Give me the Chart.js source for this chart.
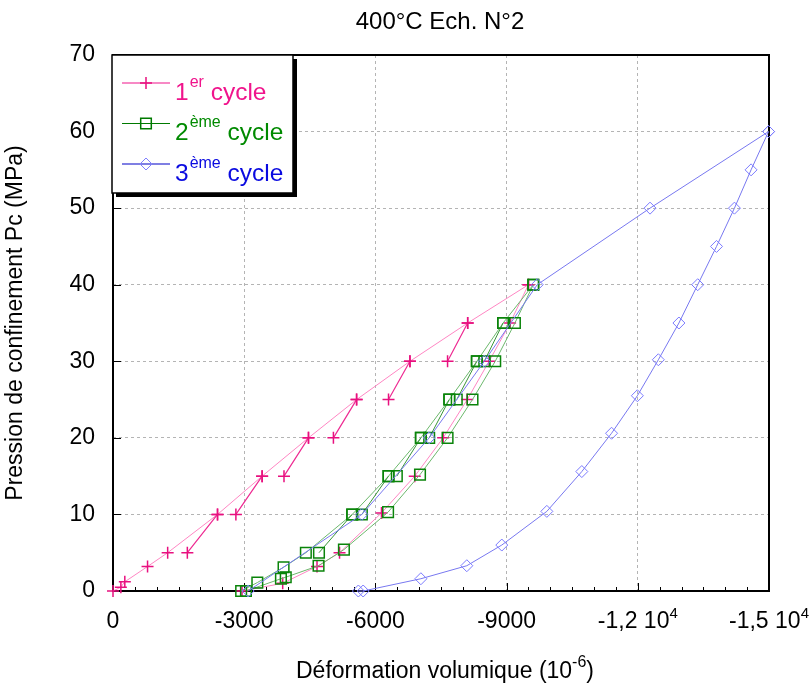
<!DOCTYPE html>
<html>
<head>
<meta charset="utf-8">
<script src="https://cdn.jsdelivr.net/npm/chart.js@4.4.0/dist/chart.umd.min.js"></script>
<style>
  html, body { margin: 0; padding: 0; background: #fff; }
</style>
</head>
<body>
<canvas id="chart" width="810" height="685"></canvas>
<script>
// 1er cycle : chargement (début de chaque palier)
const c1LoadX = [0, -180, -270, -790, -1250, -2390, -3410, -4470, -5570, -6790, -8110, -9500];
const c1LoadY = [0, 0.5, 1.2, 3.2, 5, 10, 15, 20, 25, 30, 35, 40];
// 1er cycle : fin de palier (fluage), reliée au palier suivant
const c1CreepX = [-1700, -2810, -3910, -5040, -6300, -7650];
const c1CreepY = [5, 10, 15, 20, 25, 30];
// 1er cycle : déchargement
const c1UnloadX = [-9500, -9080, -8600, -8100, -7550, -6900, -6140, -5180, -4665, -3880, -2950];
const c1UnloadY = [40, 35, 30, 25, 20, 15, 10.2, 5, 3.2, 1, 0];

// 2ème cycle
const c2LoadX = [-2930, -3300, -3900, -4410, -5470, -6300, -7040, -7690, -8320, -8920, -9610];
const c2LoadY = [0, 1.1, 3.1, 5, 10, 15, 20, 25, 30, 35, 40];
const c2CreepX = [-4710, -5690, -6490, -7230, -7860, -8490];
const c2CreepY = [5, 10, 15, 20, 25, 30];
const c2UnloadX = [-9610, -9190, -8740, -8220, -7650, -7020, -6290, -5280, -4700, -3950, -3840, -3040];
const c2UnloadY = [40, 35, 30, 25, 20, 15.2, 10.3, 5.4, 3.3, 1.8, 1.6, 0];

// 3ème cycle
const c3LoadX = [-3090, -5690, -7230, -8490, -9700, -12280, -14990];
const c3LoadY = [0, 10, 20, 30, 40, 50, 60];
const c3UnloadX = [-14990, -14590, -14210, -13800, -13370, -12940, -12470, -11990, -11400, -10720, -9920, -8890, -8090, -7040, -5720, -5610];
const c3UnloadY = [60, 55, 50, 45, 40, 35, 30.2, 25.5, 20.6, 15.6, 10.4, 6.0, 3.3, 1.6, 0, 0];

// Axes
const xTicks = [0, -3000, -6000, -9000, -12000, -15000];
const yTicks = [0, 10, 20, 30, 40, 50, 60, 70];

const legendRows = [
    { num: '1', sup: 'er', color: '#f0148c', marker: 'cross', line: '#f0148c', mark: '#e8107f' },
    { num: '2', sup: 'ème', color: '#008a00', marker: 'rect', line: '#007a00', mark: '#007a00' },
    { num: '3', sup: 'ème', color: '#0a0ae0', marker: 'rectRot', line: '#0000c8', mark: '#8080ff' }
];

const FONT = "'Liberation Sans', Arial, sans-serif";

// construire les points {x, y}
function toPoints(xs, ys) {
    return xs.map((x, i) => ({ x: x, y: ys[i] }));
}

// segments de fluage : fin de palier -> début du palier suivant
function creepSegments(creepX, creepY, loadX, loadY) {
    const pts = [];
    creepX.forEach((x, i) => {
        const next = loadY.indexOf(creepY[i] + 5);
        pts.push({ x: x, y: creepY[i] });
        if (next >= 0) pts.push({ x: loadX[next], y: loadY[next] });
        pts.push({ x: null, y: null });
    });
    return pts;
}

function makeSet(data, lineColor, lineWidth, style, markColor, radius, order) {
    return {
        data: data,
        showLine: true,
        spanGaps: false,
        borderColor: lineColor,
        borderWidth: lineWidth,
        pointStyle: style,
        pointRadius: radius,
        pointBorderColor: markColor,
        pointBackgroundColor: 'rgba(0,0,0,0)',
        pointBorderWidth: style === 'rectRot' ? 1 : 1.5,
        clip: false,
        order: order
    };
}

const datasets = [
    makeSet(toPoints(c1LoadX, c1LoadY), '#ff86c3', 1, 'cross', '#e8107f', 6, 6),
    makeSet(creepSegments(c1CreepX, c1CreepY, c1LoadX, c1LoadY), '#ee2a92', 1.2, 'cross', '#e8107f', 6, 5),
    makeSet(toPoints(c1UnloadX, c1UnloadY), '#ff86c3', 1, 'cross', '#e8107f', 6, 6),
    makeSet(toPoints(c2LoadX, c2LoadY), '#6cb86c', 1, 'rect', '#0a840a', 7.5, 4),
    makeSet(creepSegments(c2CreepX, c2CreepY, c2LoadX, c2LoadY), '#3a963a', 1, 'rect', '#0a840a', 7.5, 3),
    makeSet(toPoints(c2UnloadX, c2UnloadY), '#6cb86c', 1, 'rect', '#0a840a', 7.5, 4),
    makeSet(toPoints(c3LoadX, c3LoadY), '#7878f0', 1, 'rectRot', '#7a7aff', 6, 1),
    makeSet(toPoints(c3UnloadX, c3UnloadY), '#7878f0', 1, 'rectRot', '#7a7aff', 6, 1)
];

function drawMarker(ctx, type, x, y, color) {
    ctx.save();
    ctx.strokeStyle = color;
    ctx.lineWidth = type === 'rectRot' ? 1 : 1.5;
    ctx.beginPath();
    if (type === 'cross') {
        ctx.moveTo(x - 6, y); ctx.lineTo(x + 6, y);
        ctx.moveTo(x, y - 6); ctx.lineTo(x, y + 6);
    } else if (type === 'rect') {
        ctx.rect(x - 5.3, y - 5.3, 10.6, 10.6);
    } else {
        ctx.moveTo(x - 6, y); ctx.lineTo(x, y - 6); ctx.lineTo(x + 6, y); ctx.lineTo(x, y + 6); ctx.closePath();
    }
    ctx.stroke();
    ctx.restore();
}

// texte avec exposant : main + sup + tail, centré en cx
function drawSupText(ctx, main, sup, tail, cx, base, size, supSize, raise) {
    const big = size + 'px ' + FONT, small = supSize + 'px ' + FONT;
    ctx.font = big;
    const w1 = ctx.measureText(main).width;
    const w3 = ctx.measureText(tail).width;
    ctx.font = small;
    const w2 = ctx.measureText(sup).width;
    const x0 = cx - (w1 + w2 + w3) / 2;
    ctx.textAlign = 'left';
    ctx.font = big;
    ctx.fillText(main, x0, base);
    ctx.fillText(tail, x0 + w1 + w2, base);
    ctx.font = small;
    ctx.fillText(sup, x0 + w1, base - raise);
}

// libellé d'abscisse : [texte, exposant]
function xLabel(v) {
    if (v === 0) return ['0', ''];
    if (Math.abs(v) >= 10000) {
        return ['-' + String(Math.abs(v) / 10000).replace('.', ',') + ' 10', '4'];
    }
    return [String(v), ''];
}

// cadre, graduations, libellés, titre et légende
const framePlugin = {
    id: 'frame',
    beforeDatasetsDraw(chart) {
        const { ctx, chartArea: a, scales: { x, y } } = chart;
        ctx.save();
        ctx.strokeStyle = '#000';
        ctx.lineWidth = 1;
        ctx.beginPath();
        for (let v = 0; v >= -15000; v -= 500) {
            const px = Math.round(x.getPixelForValue(v)) + 0.5;
            const len = v % 3000 === 0 ? 8 : 4;
            ctx.moveTo(px, a.bottom);
            ctx.lineTo(px, a.bottom - len);
        }
        yTicks.forEach(v => {
            const py = Math.round(y.getPixelForValue(v)) + 0.5;
            ctx.moveTo(a.left, py);
            ctx.lineTo(a.left + 8, py);
        });
        ctx.stroke();
        ctx.lineWidth = 2;
        ctx.strokeRect(a.left, a.top, a.right - a.left, a.bottom - a.top);

        // libellés de l'axe x
        ctx.fillStyle = '#000';
        ctx.textBaseline = 'alphabetic';
        xTicks.forEach(v => {
            const [main, sup] = xLabel(v);
            drawSupText(ctx, main, sup, '', x.getPixelForValue(v), a.bottom + 37, 23, 15, 10);
        });
        // titre de l'axe x
        drawSupText(ctx, 'Déformation volumique (10', '-6', ')', (a.left + a.right) / 2 + 4, 678, 23, 16, 11);
        ctx.restore();
    },
    afterDraw(chart) {
        const { ctx, chartArea: a } = chart;
        ctx.save();
        // titre
        ctx.fillStyle = '#000';
        ctx.font = '24px ' + FONT;
        ctx.textAlign = 'center';
        ctx.textBaseline = 'alphabetic';
        ctx.fillText('400°C Ech. N°2', (a.left + a.right) / 2 - 1, 29);

        // légende
        const lx = a.left - 1, ly = a.top, lw = 181, lh = 138;
        ctx.fillStyle = '#000';
        ctx.fillRect(lx + 4, ly + 4, lw, lh);
        ctx.fillStyle = '#fff';
        ctx.fillRect(lx, ly, lw, lh);
        ctx.strokeStyle = '#000';
        ctx.lineWidth = 1.5;
        ctx.strokeRect(lx, ly, lw, lh);

        ctx.textAlign = 'left';
        legendRows.forEach((row, i) => {
            const rowY = ly + 28 + i * 40.5;
            ctx.strokeStyle = row.line;
            ctx.lineWidth = 1.2;
            ctx.beginPath();
            ctx.moveTo(lx + 10, rowY);
            ctx.lineTo(lx + 58, rowY);
            ctx.stroke();
            drawMarker(ctx, row.marker, lx + 34, rowY, row.mark);

            const base = rowY + 16.5;
            let tx = lx + 63;
            ctx.fillStyle = row.color;
            ctx.font = '24.5px ' + FONT;
            ctx.fillText(row.num, tx, base);
            tx += ctx.measureText(row.num).width + 1;
            ctx.font = '16px ' + FONT;
            ctx.fillText(row.sup, tx, base - 13);
            tx += ctx.measureText(row.sup).width;
            ctx.font = '24.5px ' + FONT;
            ctx.fillText(' cycle', tx, base);
        });
        ctx.restore();
    }
};

new Chart(document.getElementById('chart'), {
    type: 'scatter',
    data: { datasets: datasets },
    options: {
        responsive: false,
        animation: false,
        layout: { padding: { top: 55, right: 41, left: 0, bottom: 0 } },
        plugins: {
            legend: { display: false },
            tooltip: { enabled: false },
            title: { display: false }
        },
        scales: {
            x: {
                type: 'linear',
                reverse: true,
                min: -15000,
                max: 0,
                afterBuildTicks: scale => { scale.ticks = xTicks.map(v => ({ value: v })); },
                ticks: { display: false },
                grid: { color: '#b4b4b4', lineWidth: 1, drawTicks: false },
                border: { display: false, dash: [3, 3] },
                title: { display: false },
                afterFit: scale => {
                    scale.height = 94;
                    scale.paddingLeft = 0;
                    scale.paddingRight = 0;
                }
            },
            y: {
                type: 'linear',
                min: 0,
                max: 70,
                afterBuildTicks: scale => { scale.ticks = yTicks.map(v => ({ value: v })); },
                ticks: {
                    color: '#000',
                    font: { family: FONT, size: 23 },
                    padding: 18
                },
                grid: { color: '#b4b4b4', lineWidth: 1, drawTicks: false },
                border: { display: false, dash: [3, 3] },
                title: {
                    display: true,
                    text: 'Pression de confinement Pc (MPa)',
                    color: '#000',
                    font: { family: FONT, size: 23 },
                    padding: { top: 2, bottom: 0 }
                },
                afterFit: scale => {
                    scale.width = 113;
                    scale.paddingTop = 0;
                    scale.paddingBottom = 0;
                }
            }
        }
    },
    plugins: [framePlugin]
});
</script>
</body>
</html>
